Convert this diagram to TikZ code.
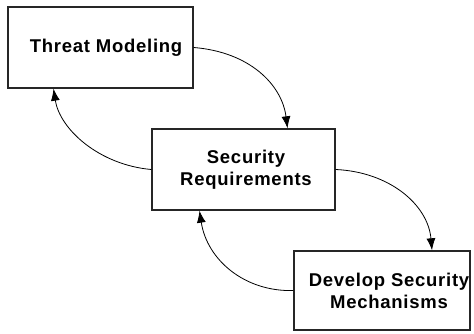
\documentclass[tikz,border=0pt]{standalone}
\usepackage{fontspec}
\setmainfont{Liberation Sans}
\usetikzlibrary{arrows.meta}
\tikzset{
  box/.style={draw=black!85, line width=1.4pt, fill=white, inner sep=0pt, align=center,
    font=\fontsize{18.5}{22}\bfseries\addfontfeatures{LetterSpace=4}},
  flow/.style={draw=black, line width=0.8pt, -{Latex[length=12pt,width=9pt]}}
}
\begin{document}
\begin{tikzpicture}[x=1pt,y=-1pt]
\useasboundingbox (0,0) rectangle (474,334);
\node[box, minimum width=185pt, minimum height=81pt] (tm) at (100.5,47.5) {\hspace*{11pt}Threat Modeling};
\node[box, minimum width=183pt, minimum height=81pt] (sr) at (243.5,169.5) {\hspace*{5pt}Security\\\hspace*{5pt}Requirements};
\node[box, minimum width=176pt, minimum height=79pt] (dm) at (382,290.5) {\hspace*{14pt}Develop Security\\\hspace*{14pt}Mechanisms};
\draw[flow] (tm.east) .. controls (250,52) and (282,85) .. ([xshift=44pt]sr.north);
\draw[flow] (sr.west) .. controls (100,165) and (60,130) .. ([xshift=-47pt]tm.south);
\draw[flow] (sr.east) .. controls (390,172) and (428,205) .. ([xshift=50pt]dm.north);
\draw[flow] (dm.west) .. controls (245,292) and (207,260) .. ([xshift=-44pt]sr.south);
\end{tikzpicture}
\end{document}
